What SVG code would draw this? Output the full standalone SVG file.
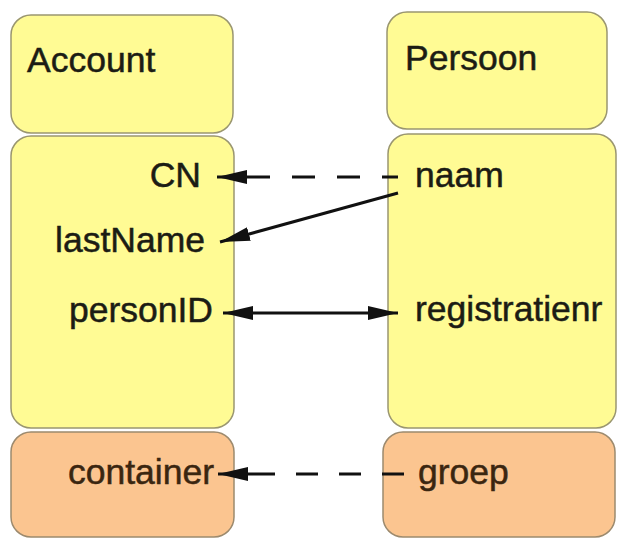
<svg xmlns="http://www.w3.org/2000/svg" width="619" height="539" viewBox="0 0 619 539">
<defs>
<style>
.y{fill:#fffb94;stroke:#9a9670;stroke-width:1.5}
.o{fill:#fbc590;stroke:#9c8a6e;stroke-width:1.5}
.t{font-family:"Liberation Sans",Arial,sans-serif;font-size:35.5px;fill:#1c1c14;stroke:#1c1c14;stroke-width:0.5}
.to{font-family:"Liberation Sans",Arial,sans-serif;font-size:35.5px;fill:#3a2610;stroke:#3a2610;stroke-width:0.5}
.r{text-anchor:end}
.c{stroke:#111;stroke-width:3;fill:none}
.d{stroke-dasharray:23 22}
</style>
<marker id="ah" viewBox="0 0 30 14" refX="30" refY="7" markerWidth="30" markerHeight="14" markerUnits="userSpaceOnUse" orient="auto-start-reverse">
<path d="M0,0 L30,7 L0,14 Z" fill="#111"/>
</marker>
</defs>
<rect width="619" height="539" fill="#fff"/>
<g id="account">
<rect class="y" x="11" y="15" width="222" height="118" rx="20"/>
<text class="t" x="27" y="72">Account</text>
</g>
<g id="account-attrs">
<rect class="y" x="11" y="136" width="223" height="292" rx="20"/>
<text class="t r" x="201" y="187">CN</text>
<text class="t r" x="205" y="252">lastName</text>
<text class="t r" x="213" y="322">personID</text>
</g>
<g id="account-container">
<rect class="o" x="11" y="432" width="223" height="105" rx="20"/>
<text class="to r" x="214" y="484">container</text>
</g>
<g id="persoon">
<rect class="y" x="387" y="12" width="220" height="117" rx="20"/>
<text class="t" x="405" y="70">Persoon</text>
</g>
<g id="persoon-attrs">
<rect class="y" x="388" y="134" width="228" height="294" rx="20"/>
<text class="t" x="415" y="187">naam</text>
<text class="t" x="415" y="321">registratienr</text>
</g>
<g id="persoon-groep">
<rect class="o" x="383" y="432" width="232" height="105" rx="20"/>
<text class="to" x="418" y="484">groep</text>
</g>
<g id="connectors">
<path class="c d" d="M247,177 L398,177"/>
<path class="c" d="M245,177 L217,177" marker-end="url(#ah)"/>
<path class="c" d="M398,193 L220,242" marker-end="url(#ah)"/>
<path class="c" d="M223,313 L398,313" marker-start="url(#ah)" marker-end="url(#ah)"/>
<path class="c d" d="M253,474 L410,474" style="stroke-dasharray:22 21"/>
<path class="c" d="M253,474 L218,474" marker-end="url(#ah)"/>
</g>
</svg>
